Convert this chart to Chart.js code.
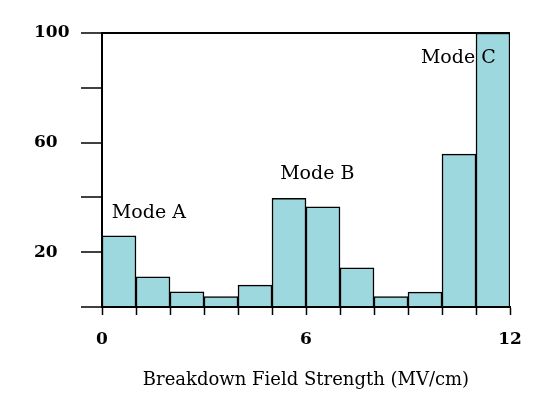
<!DOCTYPE html>
<html>
<head>
<meta charset="utf-8">
<script src="https://cdn.jsdelivr.net/npm/chart.js@4"></script>
<style>
  html, body { margin: 0; padding: 0; background: #fff; }
</style>
</head>
<body>
<canvas id="histChart" width="553" height="396"></canvas>
<script>
// histogram bins (MV/cm), left edge of each bin
var binStarts = [0, 1, 2, 3, 4, 5, 6, 7, 8, 9, 10, 11];
var counts = [26, 11, 5.5, 3.8, 8, 39.7, 36.6, 14.3, 3.8, 5.4, 55.8, 100];
var xTickLabels = [0, 6, 12];
var yTickLabels = [20, 60, 100];
var modeNames = ['Mode A', 'Mode B', 'Mode C'];
var modeX = [0.29, 5.24, 9.38];
var modeY = [34.3, 48.5, 90.9];

var serif = '"DejaVu Serif", serif';

// draws the "Mode" labels in data coordinates
var modeLabels = {
    id: 'modeLabels',
    afterDatasetsDraw: function (chart) {
        var ctx = chart.ctx;
        var xs = chart.scales.x, ys = chart.scales.y;
        ctx.save();
        ctx.font = '19px ' + serif;
        ctx.fillStyle = '#000';
        ctx.textAlign = 'left';
        ctx.textBaseline = 'middle';
        for (var i = 0; i < modeNames.length; i++) {
            ctx.fillText(modeNames[i], xs.getPixelForValue(modeX[i]), ys.getPixelForValue(modeY[i]));
        }
        ctx.restore();
    }
};

var ctx = document.getElementById('histChart').getContext('2d');
var chart = new Chart(ctx, {
    type: 'bar',
    data: {
        datasets: [{
            data: binStarts.map(function (b, i) { return { x: b + 0.5, y: counts[i] }; }),
            backgroundColor: '#9ed8df',
            borderColor: '#000',
            borderWidth: 1.5,
            barPercentage: 1,
            categoryPercentage: 1
        }]
    },
    options: {
        responsive: false,
        animation: false,
        layout: { padding: { left: 34, right: 43, top: 33, bottom: 0 } },
        plugins: { legend: { display: false }, tooltip: { enabled: false } },
        scales: {
            x: {
                type: 'linear',
                min: 0,
                max: 12,
                offset: false,
                afterFit: function (s) { s.height = 89; },
                ticks: {
                    stepSize: 1,
                    autoSkip: false,
                    maxRotation: 0,
                    padding: 14,
                    color: '#000',
                    font: { family: serif, size: 17, weight: 'bold' },
                    callback: function (v) { return xTickLabels.indexOf(v) >= 0 ? String(v) : ''; }
                },
                grid: { offset: false, drawOnChartArea: false, tickLength: 8, tickColor: '#000', tickWidth: 1.5 },
                border: { color: '#000', width: 2 },
                title: {
                    display: true,
                    text: 'Breakdown Field Strength (MV/cm)',
                    color: '#000',
                    font: { family: serif, size: 18 },
                    padding: { top: 0, bottom: 5 }
                }
            },
            y: {
                min: 0,
                max: 100,
                afterFit: function (s) { s.width = 68; },
                ticks: {
                    stepSize: 20,
                    crossAlign: 'far',
                    color: '#000',
                    font: { family: serif, size: 17, weight: 'bold' },
                    callback: function (v) { return yTickLabels.indexOf(v) >= 0 ? String(v) : ''; }
                },
                grid: {
                    drawOnChartArea: true,
                    tickLength: 21,
                    tickColor: '#000',
                    tickWidth: 1.5,
                    lineWidth: 2,
                    color: function (c) { return c.tick && c.tick.value === 100 ? '#000' : 'rgba(0,0,0,0)'; }
                },
                border: { color: '#000', width: 2 }
            }
        }
    },
    plugins: [modeLabels]
});
</script>
</body>
</html>
